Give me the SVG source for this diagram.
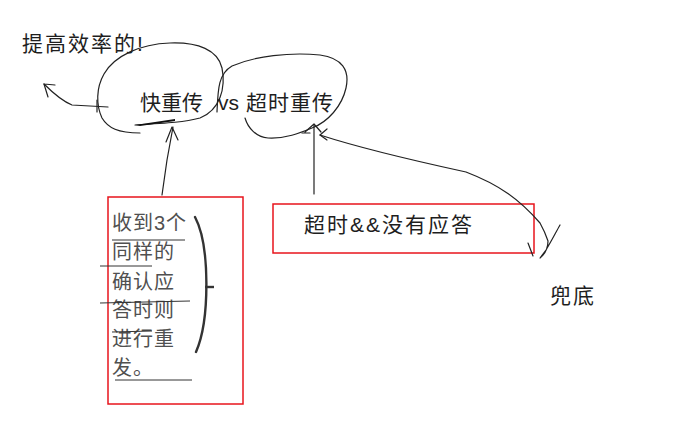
<svg xmlns="http://www.w3.org/2000/svg" width="675" height="423" viewBox="0 0 675 423">
<style>
.t{font-family:"Liberation Sans","Noto Sans CJK SC",sans-serif;font-size:21px;fill:#1e1e1e}
.g{font-family:"Liberation Sans","Noto Sans CJK SC",sans-serif;font-size:20px;fill:#505050;letter-spacing:1px}
.pen{fill:none;stroke:#222;stroke-width:1.2;stroke-linecap:round;stroke-linejoin:round}
.box{fill:none;stroke:#e8141c;stroke-width:1.5}
.ul{stroke:#333;stroke-width:1}
</style>
<rect width="675" height="423" fill="#fff"/>
<g id="title"><text class="t" x="22" y="51" letter-spacing="2">提高效率的!</text></g>
<g id="fast">
<path class="pen" d="M140,133 C118,133 108,128 102,118 C96,105 96,88 104,74 C114,56 140,44 170,43 C198,42 218,50 222,68 C226,88 220,110 200,118 C185,122 170,123 135,125"/>
<path d="M135,125 L175,119 L175,121 L140,126 Z" fill="#111"/>
<text class="t" x="140" y="110" font-size="22">快重传</text>
</g>
<g id="vs"><text class="t" x="218" y="110" font-size="22">vs</text></g>
<g id="timeout">
<path class="pen" d="M245,118 C248,128 256,137 268,138 C285,139 300,133 312,128 C328,122 342,106 346,88 C350,70 342,58 320,55 C290,52 255,56 232,66 C218,74 218,90 217,112"/>
<text class="t" x="246" y="110" font-size="22" letter-spacing="1">超时重传</text>
</g>
<g id="box1">
<rect class="box" x="108" y="197" width="135" height="207"/>
<text class="g" x="112" y="230">收到3个</text>
<text class="g" x="112" y="259">同样的</text>
<text class="g" x="112" y="289">确认应</text>
<text class="g" x="112" y="317">答时则</text>
<text class="g" x="112" y="346">进行重</text>
<text class="g" x="112" y="375">发。</text>
<line class="ul" x1="112" y1="240" x2="185" y2="240"/>
<line class="ul" x1="100" y1="266" x2="152" y2="266"/>
<line class="ul" x1="100" y1="303" x2="190" y2="301"/>
<line class="ul" x1="112" y1="332" x2="152" y2="331"/>
<line class="ul" x1="115" y1="380" x2="192" y2="380"/>
<path d="M195,217 C210,245 210,320 196,352" fill="none" stroke="#333" stroke-width="2.4" stroke-linecap="round"/>
<line x1="205" y1="287" x2="214" y2="287" stroke="#333" stroke-width="2.4"/>
</g>
<g id="box2">
<rect class="box" x="273" y="204" width="261" height="49"/>
<text class="t" x="304" y="232" font-size="22" letter-spacing="2">超时&amp;&amp;没有应答</text>
</g>
<g id="fallback"><text class="t" x="550" y="303" font-size="22" letter-spacing="2">兜底</text></g>
<g id="connectors">
<path class="pen" d="M162,195 L167,160 L173,127"/>
<path class="pen" d="M166,142 L172,127 L178,140"/>
<path class="pen" d="M108,107 L72,105 C62,101 53,93 44,84"/>
<path class="pen" d="M44,84 L55,85 M44,84 L48,97"/>
<path class="pen" d="M97,100 L97,112"/>
<path class="pen" d="M314,194 L314,125"/>
<path class="pen" d="M305,132 L314,124 L321,132 M302,133 L310,133"/>
<path class="pen" d="M320,135 C360,148 420,162 466,172 C500,185 520,200 540,223 C545,232 547,238 548,241 C548,248 545,254 540,258 L546,250 C552,240 556,232 560,225"/>
<path class="pen" d="M528,243 L533,256"/>
<path class="pen" d="M320,135 L327,129 M320,135 L327,140"/>
</g>
</svg>
